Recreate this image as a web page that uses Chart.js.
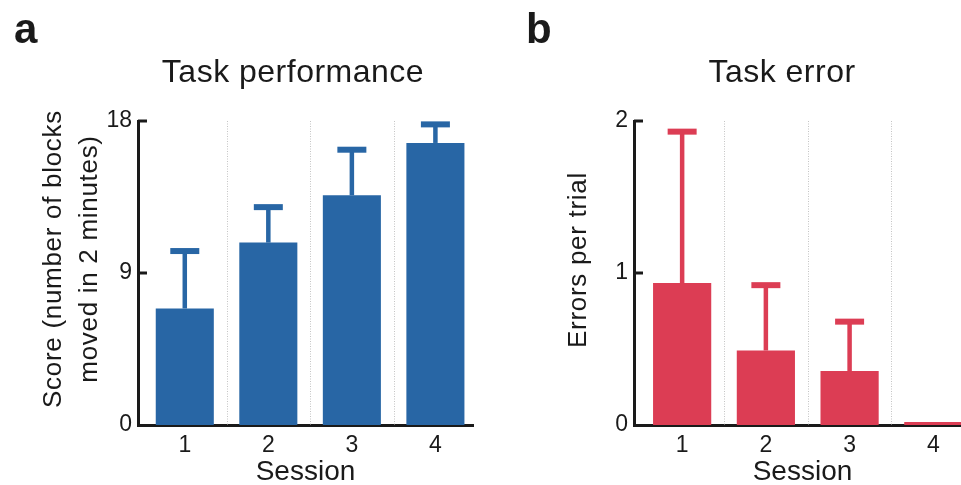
<!DOCTYPE html>
<html>
<head>
<meta charset="utf-8">
<script src="https://cdn.jsdelivr.net/npm/chart.js@4.4.1/dist/chart.umd.min.js"></script>
<style>
    html, body { margin: 0; padding: 0; background: #fff; overflow: hidden; }
    body { width: 961px; height: 485px; position: relative; }
    .panel { position: absolute; top: 0; }
    #panel-a { left: 0; }
    #panel-b { left: 480px; }
</style>
</head>
<body>
<div class="panel" id="panel-a"><canvas id="perfChart" width="480" height="485"></canvas></div>
<div class="panel" id="panel-b"><canvas id="errorChart" width="530" height="485"></canvas></div>
<script>
// Data
const sessions = [1, 2, 3, 4];
const scoreMean = [6.9, 10.8, 13.6, 16.7];
const scoreUpper = [10.3, 12.9, 16.3, 17.8];
const scoreTicks = [0, 9, 18];
const errorMean = [0.935, 0.49, 0.355, 0.02];
const errorUpper = [1.93, 0.92, 0.68, 0.02];
const errorTicks = [0, 1, 2];

const FONT = '"Liberation Sans", Arial, Helvetica, sans-serif';
const INK = '#1a1a1a';
Chart.defaults.font.family = FONT;
Chart.defaults.color = INK;

// dotted separators between sessions, drawn under the bars
const separators = {
    id: 'separators',
    beforeDatasetsDraw(chart) {
        const { ctx, chartArea, scales: { x } } = chart;
        ctx.save();
        ctx.strokeStyle = '#c4c4c4';
        ctx.lineWidth = 1;
        ctx.setLineDash([1, 1.5]);
        sessions.slice(0, -1).forEach(s => {
            const px = Math.round(x.getPixelForValue(s + 0.5)) + 0.5;
            ctx.beginPath();
            ctx.moveTo(px, chartArea.top);
            ctx.lineTo(px, chartArea.bottom);
            ctx.stroke();
        });
        ctx.restore();
    }
};

// upper error bars
const errorBars = {
    id: 'errorBars',
    afterDatasetsDraw(chart, args, opts) {
        const { ctx, scales: { x, y } } = chart;
        ctx.save();
        ctx.strokeStyle = opts.color;
        opts.upper.forEach((up, i) => {
            if (up <= opts.mean[i]) return;
            const px = x.getPixelForValue(sessions[i]);
            const top = y.getPixelForValue(up);
            const base = y.getPixelForValue(opts.mean[i]);
            ctx.lineWidth = 4.5;
            ctx.beginPath();
            ctx.moveTo(px, base);
            ctx.lineTo(px, top);
            ctx.stroke();
            ctx.lineWidth = 6;
            ctx.beginPath();
            ctx.moveTo(px - 14.5, top);
            ctx.lineTo(px + 14.5, top);
            ctx.stroke();
        });
        ctx.restore();
    }
};

// inward y ticks + panel letter, title and y label
const decorations = {
    id: 'decorations',
    afterDraw(chart, args, opts) {
        const { ctx, chartArea, scales: { y } } = chart;
        ctx.save();
        ctx.strokeStyle = INK;
        ctx.lineWidth = 3;
        opts.ticks.slice(1).forEach(v => {
            const py = y.getPixelForValue(v);
            ctx.beginPath();
            ctx.moveTo(chartArea.left, py);
            ctx.lineTo(chartArea.left + 9, py);
            ctx.stroke();
        });

        ctx.fillStyle = INK;
        ctx.textBaseline = 'alphabetic';
        ctx.textAlign = 'left';
        ctx.font = `bold 42px ${FONT}`;
        ctx.fillText(opts.letter, opts.letterX, 43);

        ctx.textAlign = 'center';
        ctx.font = `32px ${FONT}`;
        ctx.letterSpacing = '0.5px';
        ctx.fillText(opts.title, opts.titleX, 82);

        ctx.font = `26px ${FONT}`;
        ctx.letterSpacing = '0.7px';
        ctx.textBaseline = 'middle';
        opts.yLabel.forEach((line, i) => {
            ctx.save();
            ctx.translate(opts.yLabelX[i], opts.yLabelY);
            ctx.rotate(-Math.PI / 2);
            ctx.fillText(line, 0, 0);
            ctx.restore();
        });
        ctx.restore();
    }
};

const makeChart = (canvasId, cfg) => new Chart(document.getElementById(canvasId), {
    type: 'bar',
    data: {
        datasets: [{
            data: sessions.map((s, i) => ({ x: s, y: cfg.mean[i] })),
            backgroundColor: cfg.color,
            borderWidth: 0,
            barPercentage: 0.695,
            categoryPercentage: 1
        }]
    },
    options: {
        responsive: false,
        animation: false,
        layout: { padding: { top: 121, right: cfg.padRight, left: 0, bottom: 0 } },
        plugins: {
            legend: { display: false },
            tooltip: { enabled: false },
            errorBars: { mean: cfg.mean, upper: cfg.upper, color: cfg.color },
            decorations: cfg.deco
        },
        scales: {
            x: {
                type: 'linear',
                min: cfg.xMin,
                max: cfg.xMax,
                offset: false,
                z: 1,
                afterBuildTicks: scale => { scale.ticks = sessions.map(v => ({ value: v })); },
                afterFit: scale => { scale.height = 60; },
                grid: { display: false, drawTicks: false, offset: false },
                border: { display: true, color: INK, width: 3 },
                ticks: { font: { size: 23 }, color: INK, padding: 7, maxRotation: 0 },
                title: {
                    display: true,
                    text: 'Session',
                    color: INK,
                    font: { size: 28, lineHeight: 1 },
                    padding: { top: 0, bottom: -1 }
                }
            },
            y: {
                min: 0,
                max: cfg.yTicks[cfg.yTicks.length - 1],
                z: 1,
                afterBuildTicks: scale => { scale.ticks = cfg.yTicks.map(v => ({ value: v })); },
                afterFit: scale => { scale.width = cfg.axisLeft; },
                grid: { display: false, drawTicks: false },
                border: { display: true, color: INK, width: 3 },
                ticks: { font: { size: 23 }, color: INK, padding: 6 }
            }
        }
    },
    plugins: [separators, errorBars, decorations]
});

makeChart('perfChart', {
    mean: scoreMean,
    upper: scoreUpper,
    color: '#2866a5',
    yTicks: scoreTicks,
    axisLeft: 138,
    padRight: 7,
    xMin: 0.44,
    xMax: 4.45,
    deco: {
        ticks: scoreTicks,
        letter: 'a', letterX: 14,
        title: 'Task performance', titleX: 293,
        yLabel: ['Score (number of blocks', 'moved in 2 minutes)'],
        yLabelX: [54, 90], yLabelY: 259
    }
});

makeChart('errorChart', {
    mean: errorMean,
    upper: errorUpper,
    color: '#dc3d54',
    yTicks: errorTicks,
    axisLeft: 154,
    padRight: 39,
    xMin: 0.425,
    xMax: 4.45,
    deco: {
        ticks: errorTicks,
        letter: 'b', letterX: 46,
        title: 'Task error', titleX: 302,
        yLabel: ['Errors per trial'],
        yLabelX: [99], yLabelY: 260
    }
});
</script>
</body>
</html>
